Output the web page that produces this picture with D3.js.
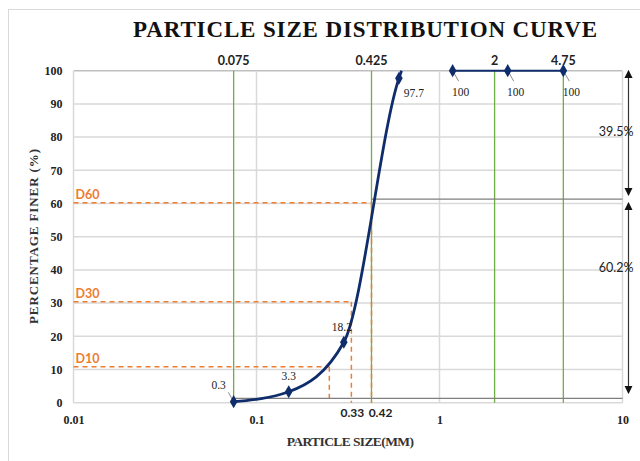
<!DOCTYPE html>
<html>
<head>
<meta charset="utf-8">
<script src="https://cdn.jsdelivr.net/npm/d3@7"></script>
<style>
  body { margin: 0; background: #fff; }
  svg { display: block; }
</style>
</head>
<body>
<div class="canvas"></div>
<script>
// sieve data (size in mm, percentage finer)
const sieveSizes = [0.075, 0.15, 0.3, 0.6, 1.18, 2.36, 4.75];
const percentFiner = [0.3, 3.3, 18.2, 97.7, 100, 100, 100];
// curve tail (line stops just above the 0.6 point)
const curveTail = { size: 0.62, pct: 100 };

// green reference sieves
const refSieves = [0.075, 0.425, 2, 4.75];
const refLabels = ["0.075", "0.425", "2", "4.75"];

// D-values
const dLabels = ["D10", "D30", "D60"];
const dPercents = [10.8, 30.4, 60.2];
const dSizes = [0.25, 0.33, 0.425];
const dSizeLabels = ["", "0.33", "0.42"];

// bracket annotation on the right
const bandLabels = ["39.5%", "60.2%"];
const bandTops = [100, 60.2];
const bandBottoms = [62.5, 2.9];
const bandLabelAt = [81.5, 40.5];
const splitLines = [61.3, 1.3];

const xTicks = [0.01, 0.1, 1, 10];
const yTicks = d3.range(0, 101, 10);

const width = 640;
const height = 461;
const margin = { top: 70.7, right: 17.5, bottom: 58.3, left: 73.5 };
const graphWidth = width - margin.left - margin.right;
const graphHeight = height - margin.top - margin.bottom;

const serif = "'Liberation Serif', 'Times New Roman', serif";
const sans = "Lato, 'Open Sans', sans-serif";
const navy = "#0f2c6b";
const orange = "#ed7d31";
const green = "#70ad47";

const svg = d3
  .select(".canvas")
  .append("svg")
  .attr("width", width)
  .attr("height", height);

// outer frame
svg
  .append("rect")
  .attr("x", 8.5)
  .attr("y", 9.5)
  .attr("width", width)
  .attr("height", height)
  .attr("fill", "none")
  .attr("stroke", "#d9d9d9");

// title
svg
  .append("text")
  .attr("x", 133)
  .attr("y", 37)
  .attr("textLength", 464)
  .attr("lengthAdjust", "spacing")
  .attr("font-family", serif)
  .attr("font-weight", "bold")
  .attr("font-size", 23)
  .attr("fill", "#111")
  .text("PARTICLE SIZE DISTRIBUTION CURVE");

const graph = svg
  .append("g")
  .attr("transform", `translate(${margin.left}, ${margin.top})`);

// scales
const x = d3.scaleLog().domain([0.01, 10]).range([0, graphWidth]);
const y = d3.scaleLinear().domain([0, 100]).range([graphHeight, 0]);

// gridlines
graph
  .append("g")
  .selectAll("line")
  .data(yTicks)
  .enter()
  .append("line")
  .attr("x1", 0)
  .attr("x2", graphWidth)
  .attr("y1", (d) => y(d))
  .attr("y2", (d) => y(d))
  .attr("stroke", (d) => (d === 100 ? "#bfbfbf" : "#d9d9d9"))
  .attr("stroke-width", 1.5);

graph
  .append("g")
  .selectAll("line")
  .data(xTicks)
  .enter()
  .append("line")
  .attr("x1", (d) => x(d))
  .attr("x2", (d) => x(d))
  .attr("y1", 0)
  .attr("y2", graphHeight)
  .attr("stroke", "#d9d9d9")
  .attr("stroke-width", 1.5);

// axes (labels only, Excel style)
const xAxis = d3
  .axisBottom(x)
  .tickValues(xTicks)
  .tickFormat((d) => d)
  .tickSize(0)
  .tickPadding(13);
const yAxis = d3.axisLeft(y).tickValues(yTicks).tickSize(0).tickPadding(11);

const xAxisGroup = graph
  .append("g")
  .attr("transform", `translate(0, ${graphHeight})`)
  .call(xAxis);
const yAxisGroup = graph.append("g").call(yAxis);

[xAxisGroup, yAxisGroup].forEach((g) => {
  g.select(".domain").remove();
  g.selectAll("text")
    .attr("font-family", serif)
    .attr("font-weight", "bold")
    .attr("font-size", 12)
    .attr("fill", "#222");
});

// axis titles
svg
  .append("text")
  .attr("x", 350)
  .attr("y", 446)
  .attr("text-anchor", "middle")
  .attr("font-family", serif)
  .attr("font-weight", "bold")
  .attr("font-size", 13.5)
  .attr("letter-spacing", -0.6)
  .attr("fill", "#333")
  .text("PARTICLE SIZE(MM)");

svg
  .append("text")
  .attr("transform", "translate(38, 236) rotate(-90)")
  .attr("text-anchor", "middle")
  .attr("font-family", serif)
  .attr("font-weight", "bold")
  .attr("font-size", 13)
  .attr("letter-spacing", 0.9)
  .attr("fill", "#333")
  .text("PERCENTAGE FINER (%)");

// green sieve lines
graph
  .append("g")
  .selectAll("line")
  .data(refSieves)
  .enter()
  .append("line")
  .attr("x1", (d) => x(d))
  .attr("x2", (d) => x(d))
  .attr("y1", 0)
  .attr("y2", graphHeight)
  .attr("stroke", green)
  .attr("stroke-width", 1.3);

graph
  .append("g")
  .selectAll("text")
  .data(refSieves)
  .enter()
  .append("text")
  .attr("x", (d) => x(d))
  .attr("y", -6)
  .attr("text-anchor", "middle")
  .attr("font-family", sans)
  .attr("font-weight", "bold")
  .attr("font-size", 12.5)
  .attr("fill", "#222")
  .text((d, i) => refLabels[i]);

// D-value dashed lines
const dGroup = graph.append("g");
dPercents.forEach((p, i) => {
  dGroup
    .append("line")
    .attr("x1", 0)
    .attr("x2", x(dSizes[i]))
    .attr("y1", y(p))
    .attr("y2", y(p))
    .attr("stroke", orange)
    .attr("stroke-width", 1.5)
    .attr("stroke-dasharray", "5,4");
  dGroup
    .append("line")
    .attr("x1", x(dSizes[i]))
    .attr("x2", x(dSizes[i]))
    .attr("y1", y(p))
    .attr("y2", graphHeight)
    .attr("stroke", orange)
    .attr("stroke-width", 1.5)
    .attr("stroke-dasharray", "5,4");
  dGroup
    .append("text")
    .attr("x", 2)
    .attr("y", y(p) - 4)
    .attr("font-family", sans)
    .attr("font-weight", "bold")
    .attr("font-size", 12.5)
    .attr("fill", orange)
    .text(dLabels[i]);
  dGroup
    .append("text")
    .attr("x", x(dSizes[i]) + (i === 2 ? 9 : 1))
    .attr("y", graphHeight + 14)
    .attr("text-anchor", "middle")
    .attr("font-family", sans)
    .attr("font-weight", "bold")
    .attr("font-size", 12)
    .attr("fill", "#222")
    .text(dSizeLabels[i]);
});

// gray split lines
graph
  .append("line")
  .attr("x1", x(dSizes[2]))
  .attr("x2", graphWidth)
  .attr("y1", y(splitLines[0]))
  .attr("y2", y(splitLines[0]))
  .attr("stroke", "#7f7f7f")
  .attr("stroke-width", 1.3);
graph
  .append("line")
  .attr("x1", x(sieveSizes[0]))
  .attr("x2", graphWidth)
  .attr("y1", y(splitLines[1]))
  .attr("y2", y(splitLines[1]))
  .attr("stroke", "#7f7f7f")
  .attr("stroke-width", 1.3);

// arrows
const defs = svg.append("defs");
defs
  .append("marker")
  .attr("id", "head")
  .attr("viewBox", "0 0 10 10")
  .attr("refX", 9)
  .attr("refY", 5)
  .attr("markerWidth", 7)
  .attr("markerHeight", 7)
  .attr("orient", "auto-start-reverse")
  .append("path")
  .attr("d", "M0,0 L10,5 L0,10 z")
  .attr("fill", "#111");

const arrowX = graphWidth + 6;
bandLabels.forEach((label, i) => {
  graph
    .append("line")
    .attr("x1", arrowX)
    .attr("x2", arrowX)
    .attr("y1", y(bandTops[i]))
    .attr("y2", y(bandBottoms[i]))
    .attr("stroke", "#333")
    .attr("stroke-width", 1.2)
    .attr("marker-start", "url(#head)")
    .attr("marker-end", "url(#head)");
  graph
    .append("text")
    .attr("x", arrowX + 5)
    .attr("y", y(bandLabelAt[i]) + 4)
    .attr("text-anchor", "end")
    .attr("font-family", sans)
    .attr("font-size", 12.5)
    .attr("fill", "#222")
    .text(label);
});

// curve data
const points = sieveSizes.map((s, i) => ({ size: s, pct: percentFiner[i] }));
const lowerCurve = points.filter((d) => d.pct < 100).concat([curveTail]);
const upperLine = points.filter((d) => d.pct === 100);

const line = d3
  .line()
  .curve(d3.curveMonotoneX)
  .x((d) => x(d.size))
  .y((d) => y(d.pct));

graph
  .append("path")
  .datum(lowerCurve)
  .attr("fill", "none")
  .attr("stroke", navy)
  .attr("stroke-width", 2.8)
  .attr("d", line);

graph
  .append("path")
  .datum(upperLine)
  .attr("fill", "none")
  .attr("stroke", navy)
  .attr("stroke-width", 2)
  .attr("d", line);

// data labels with leader lines (offsets from the point)
const labelOffsets = [
  { dx: -15, dy: -17, leader: true },
  { dx: 0, dy: -16, leader: false },
  { dx: -2, dy: -15, leader: false },
  { dx: 15, dy: 15, leader: false },
  { dx: 8, dy: 21, leader: true },
  { dx: 8, dy: 21, leader: true },
  { dx: 8, dy: 21, leader: true }
];

const labels = graph.append("g");
points.forEach((d, i) => {
  const o = labelOffsets[i];
  const px = x(d.size);
  const py = y(d.pct);
  if (o.leader) {
    labels
      .append("line")
      .attr("x1", px)
      .attr("y1", py)
      .attr("x2", px + o.dx * (i === 0 ? 0.35 : 0.75))
      .attr("y2", py + o.dy * (i === 0 ? 0.55 : 0.5))
      .attr("stroke", "#8c8c8c")
      .attr("stroke-width", 1);
  }
  labels
    .append("text")
    .attr("x", px + o.dx)
    .attr("y", py + o.dy + 4)
    .attr("text-anchor", "middle")
    .attr("font-family", serif)
    .attr("font-size", 11.5)
    .attr("fill", "#222")
    .text(d.pct);
});

// diamond markers
graph
  .append("g")
  .selectAll("path")
  .data(points)
  .enter()
  .append("path")
  .attr("transform", (d) => `translate(${x(d.size)}, ${y(d.pct)})`)
  .attr("d", d3.symbol().type(d3.symbolDiamond).size(50))
  .attr("fill", navy);
</script>
</body>
</html>
